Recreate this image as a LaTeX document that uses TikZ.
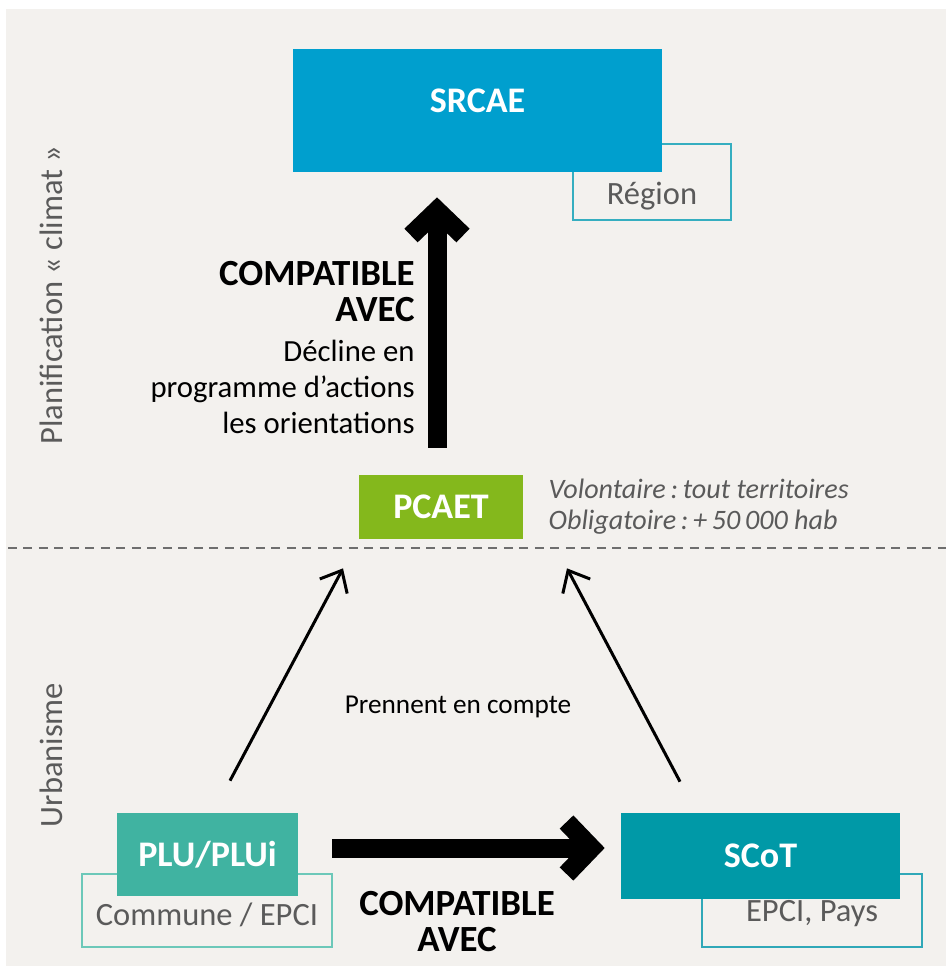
\documentclass[tikz,border=0pt]{standalone}
\usepackage{fontspec}
\setmainfont{Carlito}
\usetikzlibrary{arrows.meta,positioning,calc}

\definecolor{srcaeblue}{HTML}{009FCE}
\definecolor{pcaetgreen}{HTML}{84B81C}
\definecolor{plugreen}{HTML}{40B3A1}
\definecolor{scotteal}{HTML}{0099A7}
\definecolor{regionline}{HTML}{35AEC0}
\definecolor{communeline}{HTML}{6CC8B9}
\definecolor{epciline}{HTML}{30A8B8}
\definecolor{bgpaper}{HTML}{F3F1EE}
\definecolor{greytext}{HTML}{5A5A5A}
\definecolor{dashgrey}{HTML}{6E6E6E}

\newcommand{\grostitre}{\bfseries\fontsize{21}{20.5}\selectfont}

\begin{document}
\begin{tikzpicture}[x=0.02cm, y=-0.02cm,
                    main box/.style={fill=#1, inner sep=0pt, text=white, font=\fontsize{20.5}{22}\selectfont\bfseries},
                    sub box/.style={draw=#1, line width=0.85pt, fill=bgpaper, inner sep=0pt},
                    sub text/.style={text=greytext, font=\fontsize{18.5}{22}\selectfont},
                    side title/.style={rotate=90, text=greytext, font=\fontsize{18.5}{20}\selectfont},
                    big arrow/.style={line width=0.38cm, -{Straight Barb[length=0.5cm, width=1.04cm, sharp]}},
                    thin arrow/.style={line width=0.06cm, -{Straight Barb[length=0.36cm, width=0.62cm]}}]

  \useasboundingbox (0,0) rectangle (946,966);
  \fill[bgpaper] (6,9) rectangle (946,966);

  % climat
  \node[sub box=regionline, minimum width=3.16cm, minimum height=1.52cm,
        label={[sub text, yshift=-0.28cm]center:Région}] (region) at (652,182) {};
  \node[main box=srcaeblue, minimum width=7.38cm, minimum height=2.46cm,
        label={[main box=srcaeblue, yshift=0.2cm]center:SRCAE}] (srcae) at (477.5,110.5) {};
  \node[main box=pcaetgreen, minimum width=3.28cm, minimum height=1.28cm] (pcaet) at (441,507) {PCAET};
  \node[right=0.5cm of pcaet, inner sep=0pt, align=left, text=greytext,
        font=\fontsize{16}{17.6}\selectfont\itshape] (statut) {Volontaire\,:\,tout territoires\\Obligatoire\,:\,+\,50\,000 hab};

  \node[anchor=north east, inner sep=0pt, align=right, font=\fontsize{17.5}{20.5}\selectfont] (compathaut) at (415,261)
    {{\grostitre COMPATIBLE}\\{\grostitre AVEC}\\[2pt]Décline en\\programme d’actions\\les orientations};

  \draw[dashgrey, line width=0.75pt, dash pattern=on 0.18cm off 0.13cm] (8,548) -- (946,548);

  % urbanisme
  \node[sub box=communeline, minimum width=5cm, minimum height=1.46cm,
        label={[sub text, yshift=-0.09cm]center:Commune / EPCI}] (commune) at (207,910.5) {};
  \node[main box=plugreen, minimum width=3.62cm, minimum height=1.66cm] (plu) at (207.5,854.5) {PLU/PLUi};
  \node[sub box=epciline, minimum width=4.4cm, minimum height=1.46cm,
        label={[sub text, yshift=-0.06cm]center:EPCI, Pays}] (epci) at (812,910.5) {};
  \node[main box=scotteal, minimum width=5.58cm, minimum height=1.72cm] (scot) at (760.5,856) {SCoT};

  \node[font=\fontsize{15.5}{20}\selectfont] (prennent) at (458,707) {Prennent en compte};
  \node[anchor=north, inner sep=0pt, align=center, font=\grostitre] (compatbas) at (457,891) {COMPATIBLE\\AVEC};

  \node[side title] (climat) at (51,295) {Planification « climat »};
  \node[side title] (urba) at (51,755) {Urbanisme};

  \path
  ($(pcaet.north)+(-4,-27)$) edge[big arrow] ($(srcae.south)+(-40.5,25)$)
  ($(plu.east)+(34,-6.5)$) edge[big arrow] ($(scot.west)+(-16,-8)$)
  ($(plu.north)+(22.5,-32)$) edge[thin arrow] ($(pcaet.south)+(-98,29)$)
  ($(scot.north)+(-80.5,-31)$) edge[thin arrow] ($(pcaet.south)+(126,29)$)
  ;
\end{tikzpicture}
\end{document}
